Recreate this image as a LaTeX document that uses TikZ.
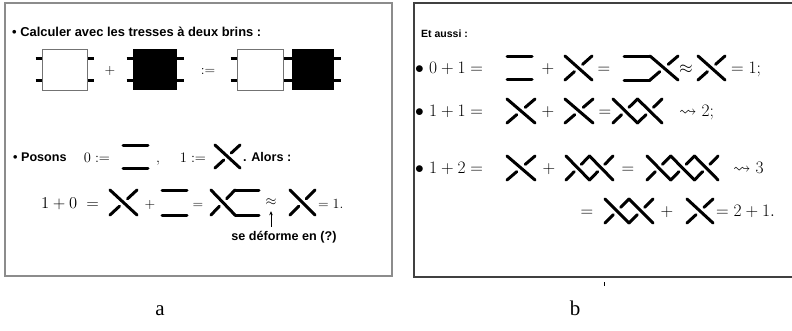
\documentclass[tikz,border=0pt]{standalone}
\usepackage{fix-cm}
\usepackage{fontspec}
\usepackage{amssymb}
\newfontfamily\sfb{Liberation Sans}
\newfontfamily\labfont{Liberation Serif}
\usetikzlibrary{arrows.meta,calc}
\tikzset{
  strand/.style={line width=3pt, line cap=round, black},
  stub/.style={line width=3pt, line cap=butt, black},
  wbox/.style={draw=black!55, line width=0.9pt, fill=white},
  bbox/.style={fill=black},
  frameA/.style={draw=black!45, line width=1.1pt},
  frameB/.style={draw=black!75, line width=1.1pt},
  tx/.style={inner sep=0pt, font=\sfb\bfseries\fontsize{12.6}{14}\selectfont},
  txB/.style={inner sep=0pt, font=\sfb\bfseries\fontsize{10.5}{12}\selectfont},
  txL/.style={inner sep=0pt, font=\sfb\bfseries\fontsize{12.9}{15}\selectfont},
  mA/.style={inner sep=0pt, font=\fontsize{16.5}{19}\selectfont},
  mP/.style={inner sep=0pt, font=\fontsize{14.5}{17}\selectfont},
  mS/.style={inner sep=0pt, font=\fontsize{14}{16}\selectfont},
  mB/.style={inner sep=0pt, font=\fontsize{17.5}{20}\selectfont},
  lab/.style={inner sep=0pt, font=\labfont\fontsize{21}{24}\selectfont},
  arr/.style={-{Stealth[length=4pt,width=3.5pt]}, line width=0.8pt}
}
% chain of n crossings: x, y(top), w, h, n
\newcommand\Xc[5]{%
  \foreach \k in {1,...,#5}{%
    \pgfmathsetmacro\xa{#1+(\k-1)*#3}%
    \draw[strand] (\xa,#2) -- (\xa+#3,#2+#4);
    \draw[strand] (\xa,#2+#4) -- (\xa+0.35*#3,#2+0.65*#4);
    \draw[strand] (\xa+#3,#2) -- (\xa+0.65*#3,#2+0.35*#4);
  }}
% two parallel strands: x, y(top), w, h
\newcommand\Bars[4]{%
  \draw[strand] (#1,#2) -- (#1+#3,#2);
  \draw[strand] (#1,#2+#4) -- (#1+#3,#2+#4);}
% box with four stubs: x1,y1,x2,y2,style
\newcommand\Bbox[5]{%
  \draw[stub] (#1-6.5,58) -- (#1,58);
  \draw[stub] (#1-6.5,80) -- (#1,80);
  \draw[stub] (#3,58) -- (#3+6.5,58);
  \draw[stub] (#3,80) -- (#3+6.5,80);
  \path[#5] (#1,#2) rectangle (#3,#4);}
\begin{document}
\begin{tikzpicture}[x=1pt,y=-1pt]
\useasboundingbox (0,0) rectangle (792,330);
% frames
\draw[frameA] (5,3) rectangle (392,276);
\draw[frameB] (793,3) -- (414,3) -- (414,277) -- (793,277);
\draw[line width=1pt] (604,282) -- (604,286);
% ---------- panel a ----------
\node[txL, anchor=base west] (calc) at (12,36.5) {\textbullet\ Calculer avec les tresses à deux brins :};
\Bbox{42}{49}{87}{90}{wbox}
\node[mS, anchor=base] (plA) at (110,74.5) {$+$};
\Bbox{133}{49}{177}{90}{bbox}
\node[mS, anchor=base] (defA) at (208,74.5) {$:=$};
\Bbox{237}{49}{283}{90}{wbox}
\Bbox{292}{49}{334}{90}{bbox}
% Posons
\node[tx, anchor=base west] (pos) at (13,161.5) {\textbullet\ Posons};
\node[mP, anchor=base] (zdef) at (97,162) {$0:=$};
\Bars{123}{145}{25}{23}
\node[mP, anchor=base] (cm) at (158,162) {$,$};
\node[mP, anchor=base] (odef) at (193,162) {$1:=$};
\Xc{215}{145}{25}{23}{1}
\node[tx, anchor=base west] (alors) at (243,161.5) {. Alors :};
% 1+0
\node[mA, anchor=base] (lhs) at (70,208.5) {$1+0\;=$};
\Xc{110}{190}{27}{25}{1}
\node[mS, anchor=base] (pB) at (150,208) {$+$};
\Bars{162}{190}{25}{25}
\node[mS, anchor=base] (qB) at (198,208) {$=$};
\Xc{211}{190}{24}{25}{1}
\Bars{235}{190}{24}{25}
\node[mS, anchor=base] (ap) at (271,205) {$\approx$};
\node[tx, anchor=base] (defo) at (284,240) {se déforme en (?)};
\draw[arr] ($(defo.north -| ap.south)+(0,-4)$) -- ($(ap.south)+(0,6)$);
\Xc{290}{190}{25}{25}{1}
\node[mS, anchor=base west] (oneA) at (318,208) {$=1.$};
% ---------- panel b ----------
\node[txB, anchor=base west] (et) at (421,37) {Et aussi :};
% line 1
\node[mB, anchor=base west] (l1) at (415,73.5) {$\bullet\ 0+1=$};
\Bars{507}{56}{25}{23}
\node[mB, anchor=base] (p11) at (548,73.5) {$+$};
\Xc{565}{56}{27}{24}{1}
\node[mB, anchor=base] (q11) at (604,73.5) {$=$};
\Bars{624}{56}{26}{24}
\Xc{650}{56}{28}{24}{1}
\node[mB, anchor=base] (a11) at (686,73.5) {$\approx$};
\Xc{698}{56}{27}{24}{1}
\node[mB, anchor=base west] (r11) at (731,73.5) {$=1;$};
% line 2
\node[mB, anchor=base west] (l2) at (415,116.5) {$\bullet\ 1+1=$};
\Xc{507}{99}{28}{24}{1}
\node[mB, anchor=base] (p21) at (548,116.5) {$+$};
\Xc{565}{99}{28}{24}{1}
\node[mB, anchor=base] (q21) at (605,116.5) {$=$};
\Xc{613}{99}{24.5}{24}{2}
\node[mB, anchor=base west] (r21) at (679,116.5) {$\rightsquigarrow 2;$};
% line 3
\node[mB, anchor=base west] (l3) at (415,173.5) {$\bullet\ 1+2=$};
\Xc{507}{156}{28}{24}{1}
\node[mB, anchor=base] (p31) at (549,173.5) {$+$};
\Xc{566}{156}{23.5}{24}{2}
\node[mB, anchor=base] (q31) at (628,173.5) {$=$};
\Xc{647}{156}{23.7}{24}{3}
\node[mB, anchor=base west] (r31) at (733,173.5) {$\rightsquigarrow 3$};
% line 4
\node[mB, anchor=base] (q41) at (587,216.5) {$=$};
\Xc{605}{199}{24}{24}{2}
\node[mB, anchor=base] (p41) at (667,216.5) {$+$};
\Xc{687}{199}{26}{24}{1}
\node[mB, anchor=base west] (r41) at (716,216.5) {$=2+1.$};
% labels
\node[lab, anchor=base] (la) at (160,315) {a};
\node[lab, anchor=base] (lb) at (575,315) {b};
\end{tikzpicture}
\end{document}
